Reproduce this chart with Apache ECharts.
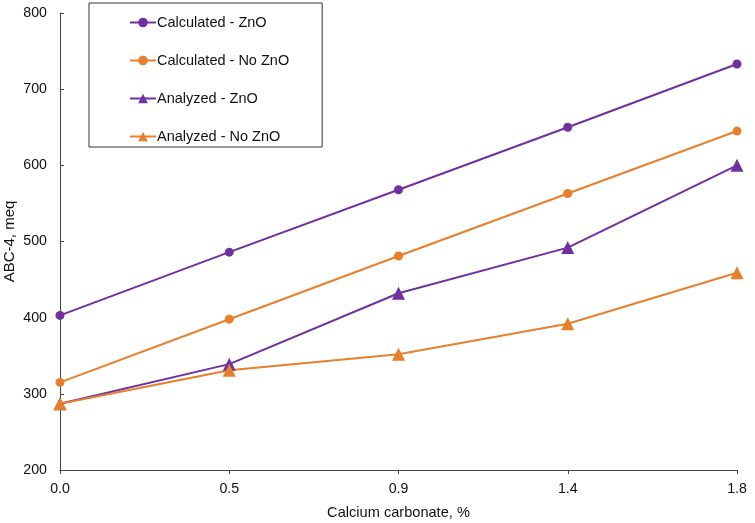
<!DOCTYPE html>
<html><head><meta charset="utf-8">
<script src="https://cdn.jsdelivr.net/npm/echarts@6/dist/echarts.min.js"></script>
<style>html,body{margin:0;padding:0;background:#fff}#c{width:755px;height:523px}</style>
</head><body><div id="c"></div>
<script>
const categories = ['0.0', '0.5', '0.9', '1.4', '1.8'];
const calcZnO = [403, 486, 568, 650, 733];
const calcNoZnO = [315, 398, 481, 563, 645];
const anaZnO = [287, 339, 432, 492, 600];
const anaNoZnO = [287, 331, 352, 392, 459];
const seriesNames = ['Calculated - ZnO', 'Calculated - No ZnO', 'Analyzed - ZnO', 'Analyzed - No ZnO'];

const PURPLE = '#7030A0', ORANGE = '#E87F2B';
const font = 'Liberation Sans, Arial, sans-serif';
const chart = echarts.init(document.getElementById('c'), null, {renderer: 'canvas'});
function mk(name, data, color, symbol, size) {
  return {name, type: 'line', data, symbol, symbolSize: size, showSymbol: true,
    lineStyle: {color, width: 2}, itemStyle: {color}, z: 3};
}
chart.setOption({
  animation: false,
  grid: {left: 60, right: 18, top: 13, bottom: 53, containLabel: false, outerBoundsMode: 'none'},
  legend: {
    orient: 'vertical', left: 89, top: 3,
    padding: [12, 33, 3, 40],
    borderColor: '#333', borderWidth: 1,
    itemWidth: 26, itemHeight: 12, itemGap: 23,
    textStyle: {fontFamily: font, fontSize: 14.5, color: '#111', padding: [0,0,0,-4]},
    data: seriesNames
  },
  xAxis: {
    type: 'category', data: categories, boundaryGap: false,
    name: 'Calcium carbonate, %', nameLocation: 'middle', nameGap: 35,
    nameMoveOverlap: false,
    nameTextStyle: {fontFamily: font, fontSize: 14.6, color: '#111'},
    axisLine: {lineStyle: {color: '#444', width: 1}},
    axisTick: {show: true, length: 4, lineStyle: {color: '#444'}},
    axisLabel: {fontFamily: font, fontSize: 14.2, color: '#111', margin: 12},
    splitLine: {show: false}
  },
  yAxis: {
    type: 'value', min: 200, max: 800, interval: 100,
    name: 'ABC-4, meq', nameLocation: 'middle', nameGap: 43,
    nameMoveOverlap: false,
    nameTextStyle: {fontFamily: font, fontSize: 15, color: '#111'},
    axisLine: {show: true, lineStyle: {color: '#444', width: 1}},
    axisTick: {show: true, inside: true, length: 4, lineStyle: {color: '#444'}},
    axisLabel: {fontFamily: font, fontSize: 14.2, color: '#111', margin: 13},
    splitLine: {show: false}
  },
  series: [
    mk(seriesNames[0], calcZnO, PURPLE, 'circle', 9),
    mk(seriesNames[1], calcNoZnO, ORANGE, 'circle', 9),
    mk(seriesNames[2], anaZnO, PURPLE, 'triangle', 13),
    mk(seriesNames[3], anaNoZnO, ORANGE, 'triangle', 13)
  ]
});
</script></body></html>
